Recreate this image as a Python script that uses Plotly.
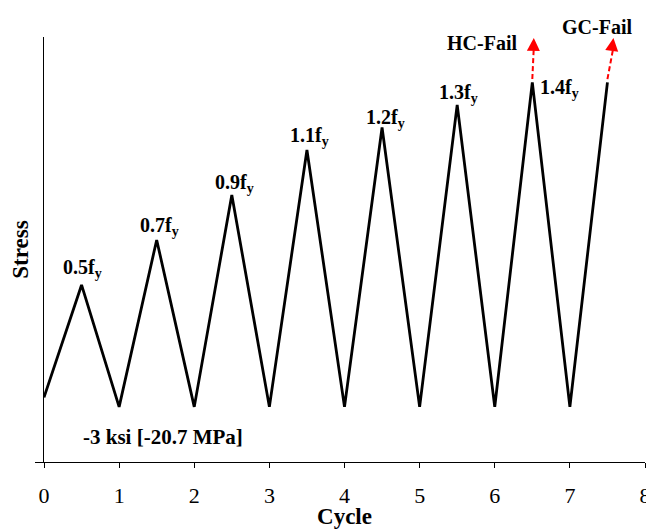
import plotly.graph_objects as go

# Data (stress normalised by f_y; valley = -3 ksi)
cycle = [0, 0.5, 1, 1.5, 2, 2.5, 3, 3.5, 4, 4.5, 5, 5.5, 6, 6.5, 7, 7.5]
stress = [0, 0.5, -0.042, 0.7, -0.042, 0.9, -0.042, 1.1, -0.042, 1.2, -0.042,
          1.3, -0.042, 1.4, -0.042, 1.4]
peak_x = [0.5, 1.5, 2.5, 3.5, 4.5, 5.5, 6.5]
peak_y = [0.5, 0.7, 0.9, 1.1, 1.2, 1.3, 1.4]
peak_labels = ["0.5", "0.7", "0.9", "1.1", "1.2", "1.3", "1.4"]
fail_start_x = [6.5, 7.5]
fail_start_y = [1.4, 1.4]
fail_end_x = [6.52, 7.58]
fail_end_y = [1.598, 1.598]
fail_labels = ["HC-Fail", "GC-Fail"]
fail_label_x = [5.83, 7.36]
fail_label_y = [1.576, 1.6]
x_ticks = [0, 1, 2, 3, 4, 5, 6, 7, 8]

FONT = "Liberation Serif, Times New Roman, serif"

fig = go.Figure()
fig.add_trace(go.Scatter(x=cycle, y=stress, mode="lines",
                         line=dict(color="black", width=2.8), showlegend=False,
                         hoverinfo="skip"))
for i in range(len(fail_start_x)):
    fig.add_trace(go.Scatter(x=[fail_start_x[i], fail_end_x[i]],
                             y=[fail_start_y[i] + 0.015, fail_end_y[i] - 0.04],
                             mode="lines",
                             line=dict(color="red", width=2, dash="5px,3px"),
                             showlegend=False, hoverinfo="skip"))
    fig.add_annotation(x=fail_end_x[i], y=fail_end_y[i], xref="x", yref="y",
                       ax=fail_end_x[i] - (fail_end_x[i] - fail_start_x[i]) * 0.25,
                       ay=fail_end_y[i] - 0.05, axref="x", ayref="y",
                       text="", showarrow=True, arrowhead=2, arrowsize=1.3,
                       arrowwidth=2, arrowcolor="red")

# Fail labels
fail_shift = [0, 10]
for lab, px, py, ys in zip(fail_labels, fail_label_x, fail_label_y, fail_shift):
    fig.add_annotation(x=px, y=py, text=f"<b>{lab}</b>", showarrow=False,
                       yshift=ys,
                       font=dict(family=FONT, size=20, color="black"))

# Peak labels
offsets = [(1, 2, "center", "bottom"), (3, -1, "center", "bottom"),
           (3, -3, "center", "bottom"), (3, -1, "center", "bottom"),
           (3, -6, "center", "bottom"), (1, -3, "center", "bottom"),
           (6, -6, "left", "middle")]
for xx, yy, lab, (xs, ys, xa, ya) in zip(peak_x, peak_y, peak_labels, offsets):
    fig.add_annotation(x=xx, y=yy, text=f"<b>{lab}f<sub>y</sub></b>",
                       showarrow=False, xshift=xs, yshift=ys,
                       xanchor=xa, yanchor=ya,
                       font=dict(family=FONT, size=20, color="black"))

fig.add_annotation(x=1.58, y=-0.042, text="<b>-3 ksi [-20.7 MPa]</b>",
                   showarrow=False, yshift=-30,
                   font=dict(family=FONT, size=21, color="black"))

# The page body adds an 8px offset, so the figure is sized to fit inside it.
fig.update_layout(
    width=646, height=521,
    margin=dict(l=36, r=9, t=29, b=67),
    paper_bgcolor="white", plot_bgcolor="white",
    font=dict(family=FONT, color="black"),
    xaxis=dict(range=[0, 8], tickvals=x_ticks, ticks="outside", ticklen=5,
               tickwidth=1.3, tickcolor="black", showline=True,
               linecolor="black", linewidth=1.3, showgrid=False, zeroline=False,
               automargin=False, ticklabelstandoff=8,
               tickfont=dict(family=FONT, size=22, color="black"),
               title=dict(text="<b>Cycle</b>", standoff=14,
                          font=dict(family=FONT, size=23, color="black"))),
    yaxis=dict(range=[-0.287, 1.602], tickvals=[-0.287], ticks="outside",
               ticklen=8, tickwidth=1.3, tickcolor="black",
               showticklabels=False, showline=True, linecolor="black",
               linewidth=1.3, showgrid=False, zeroline=False, automargin=False,
               title=dict(text="<b>Stress</b>", standoff=0,
                          font=dict(family=FONT, size=23, color="black"))),
)

fig.write_html("out.html")
